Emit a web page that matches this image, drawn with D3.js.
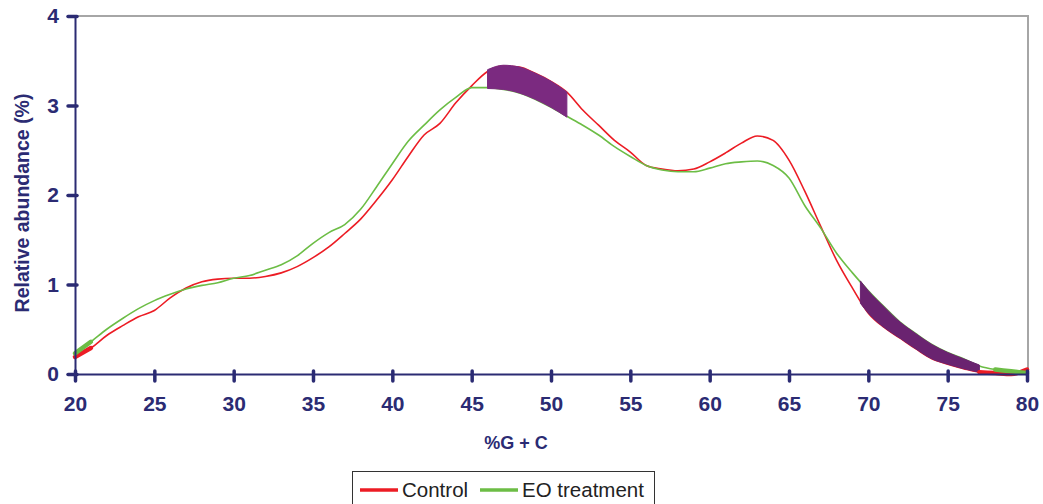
<!DOCTYPE html>
<html>
<head>
<meta charset="utf-8">
<script src="https://cdn.jsdelivr.net/npm/d3@7"></script>
<style>
  body { margin: 0; background: #fff; }
  svg { display: block; font-family: "Liberation Sans", Arial, sans-serif; }
</style>
</head>
<body>
<svg id="chart"></svg>
<script>
// %G+C values (1% steps)
let gcValues = d3.range(20, 81)
let controlValues = [0.19, 0.29, 0.43, 0.54, 0.64, 0.71, 0.85, 0.96, 1.03, 1.06,
    1.07, 1.07, 1.09, 1.13, 1.20, 1.30, 1.42, 1.57, 1.73, 1.94,
    2.17, 2.43, 2.67, 2.80, 3.03, 3.22, 3.38, 3.44, 3.43, 3.36,
    3.27, 3.15, 2.95, 2.78, 2.61, 2.48, 2.33, 2.29, 2.27, 2.29,
    2.37, 2.47, 2.58, 2.66, 2.61, 2.39, 2.04, 1.65, 1.27, 0.96,
    0.68, 0.52, 0.40, 0.28, 0.17, 0.11, 0.06, 0.02, 0.01, 0.00,
    0.05]
let eoValues = [0.23, 0.36, 0.50, 0.62, 0.73, 0.82, 0.89, 0.95, 0.99, 1.02,
    1.07, 1.10, 1.16, 1.22, 1.32, 1.46, 1.58, 1.67, 1.84, 2.09,
    2.35, 2.60, 2.78, 2.95, 3.09, 3.20, 3.20, 3.18, 3.14, 3.07,
    2.98, 2.88, 2.78, 2.67, 2.54, 2.43, 2.33, 2.28, 2.26, 2.26,
    2.30, 2.35, 2.37, 2.38, 2.33, 2.19, 1.88, 1.63, 1.35, 1.13,
    0.93, 0.75, 0.58, 0.45, 0.33, 0.24, 0.17, 0.09, 0.05, 0.03,
    0.01]

// shaded difference regions
let band1X = [46, 47, 48, 49, 50, 51]
let band1Top = [3.40, 3.45, 3.43, 3.36, 3.27, 3.15]
let band1Bottom = [3.19, 3.18, 3.14, 3.07, 2.98, 2.87]
let band2X = [69.5, 70, 71, 72, 73, 74, 75, 76, 77]
let band2Top = [1.04, 0.93, 0.75, 0.58, 0.45, 0.33, 0.24, 0.17, 0.10]
let band2Bottom = [0.79, 0.68, 0.52, 0.40, 0.28, 0.17, 0.11, 0.06, 0.02]

// highlighted (thick) stretches of the curves
let thickControl = [[20, 21], [77, 80]]
let thickEO = [[20, 21], [78, 80]]

let xTicks = [20, 25, 30, 35, 40, 45, 50, 55, 60, 65, 70, 75, 80]
let yTicks = [0, 1, 2, 3, 4]
let seriesNames = ["Control", "EO treatment"]

function getConfig(){
    let width = 1043;
    let height = 504;
    let margin = { top: 16, bottom: 130, left: 75, right: 15 }
    let bodyWidth = 1027 - margin.left;
    let bodyHeight = 374 - margin.top;
    let container = d3.select("#chart")
        .attr("width", width)
        .attr("height", height)
    return { width, height, margin, bodyWidth, bodyHeight, container };
}

function getScales(config){
    let { bodyWidth, bodyHeight } = config;
    let xScale = d3.scaleLinear().domain([20, 80]).range([0, bodyWidth])
    let yScale = d3.scaleLinear().domain([0, 4]).range([bodyHeight, 0])
    let cScale = d3.scaleOrdinal().domain(seriesNames).range(["#ec1c24", "#6cbd45"])
    return { xScale, yScale, cScale }
}

function drawFrame(scales, config){
    let { container, margin, bodyWidth, bodyHeight } = config;
    // grey plot border on top / right
    container.append("path")
        .attr("d", `M${margin.left},${margin.top}H${margin.left + bodyWidth + 1}V${margin.top + bodyHeight}`)
        .attr("fill", "none")
        .attr("stroke", "#a6a6a6")
        .attr("stroke-width", 2)
}

function drawCurves(scales, config){
    let { container, margin } = config;
    let { xScale, yScale, cScale } = scales;
    let body = container.append("g")
        .attr("transform", `translate(${margin.left},${margin.top})`)

    let line = d3.line()
        .x(d => xScale(d.x))
        .y(d => yScale(d.y))
        .curve(d3.curveMonotoneX)

    let series = [
        { name: "Control", thick: thickControl, values: gcValues.map((x, i) => ({ x: x, y: controlValues[i] })) },
        { name: "EO treatment", thick: thickEO, values: gcValues.map((x, i) => ({ x: x, y: eoValues[i] })) }
    ]

    body.selectAll(".curve")
        .data(series)
        .enter().append("path")
        .attr("class", "curve")
        .attr("d", d => line(d.values))
        .attr("fill", "none")
        .attr("stroke", d => cScale(d.name))
        .attr("stroke-width", 1.6)

    // purple difference bands
    let area = d3.area()
        .x(d => xScale(d.x))
        .y0(d => yScale(d.lo))
        .y1(d => yScale(d.hi))
        .curve(d3.curveMonotoneX)
    let bands = [
        { color: "#7b2a80", values: band1X.map((x, i) => ({ x: x, hi: band1Top[i], lo: band1Bottom[i] })) },
        { color: "#6a2370", values: band2X.map((x, i) => ({ x: x, hi: band2Top[i], lo: band2Bottom[i] })) }
    ]
    body.selectAll(".band")
        .data(bands)
        .enter().append("path")
        .attr("class", "band")
        .attr("d", d => area(d.values))
        .attr("fill", d => d.color)
        .attr("stroke", d => d.color)
        .attr("stroke-width", 1)

    // thick stretches
    series.forEach(s => {
        s.thick.forEach(r => {
            let part = s.values.filter(v => v.x >= r[0] && v.x <= r[1])
            body.append("path")
                .attr("d", line(part))
                .attr("fill", "none")
                .attr("stroke", cScale(s.name))
                .attr("stroke-width", 4.5)
                .attr("stroke-linecap", "round")
        })
    })
}

function drawAxes(scales, config){
    let { container, margin, bodyHeight, bodyWidth } = config;
    let { xScale, yScale } = scales;
    let navy = "#2b2b73"

    let axisX = d3.axisBottom(xScale)
        .tickValues(xTicks)
        .tickSize(8)
        .tickPadding(14)
    let gx = container.append("g")
        .attr("transform", `translate(${margin.left},${margin.top + bodyHeight})`)
        .call(axisX)
    gx.select(".domain").attr("stroke", navy).attr("stroke-width", 2)
    gx.selectAll(".tick line")
        .attr("y1", -3).attr("y2", 7)
        .attr("stroke", navy).attr("stroke-width", 3.5).attr("stroke-linecap", "round")
    gx.selectAll(".tick text")
        .attr("fill", navy)
        .style("font-size", "21px")
        .style("font-weight", "bold")

    let axisY = d3.axisLeft(yScale)
        .tickValues(yTicks)
        .tickFormat(d3.format("d"))
        .tickSize(8)
        .tickPadding(8)
    let gy = container.append("g")
        .attr("transform", `translate(${margin.left},${margin.top})`)
        .call(axisY)
    gy.select(".domain").attr("stroke", navy).attr("stroke-width", 2)
    gy.selectAll(".tick line")
        .attr("x1", 2).attr("x2", -7)
        .attr("stroke", navy).attr("stroke-width", 3.5).attr("stroke-linecap", "round")
    gy.selectAll(".tick text")
        .attr("fill", navy)
        .style("font-size", "21px")
        .style("font-weight", "bold")

    container.append("text")
        .attr("x", 516)
        .attr("y", 448.5)
        .attr("text-anchor", "middle")
        .attr("fill", navy)
        .style("font-size", "18px")
        .style("font-weight", "bold")
        .text("%G + C")

    container.append("text")
        .attr("transform", "translate(29,203) rotate(-90)")
        .attr("text-anchor", "middle")
        .attr("fill", navy)
        .style("font-size", "19.5px")
        .style("font-weight", "bold")
        .text("Relative abundance (%)")
}

function legend(scales, config){
    let { container } = config;
    let { cScale } = scales;
    container.append("rect")
        .attr("x", 352.5)
        .attr("y", 471.5)
        .attr("width", 302)
        .attr("height", 50)
        .attr("fill", "#fff")
        .attr("stroke", "#333")
        .attr("stroke-width", 1)
    let pos = [{ x: 360, tx: 402 }, { x: 480, tx: 522 }]
    seriesNames.forEach((name, i) => {
        container.append("line")
            .attr("x1", pos[i].x).attr("x2", pos[i].x + 38)
            .attr("y1", 490).attr("y2", 490)
            .attr("stroke", cScale(name))
            .attr("stroke-width", 3.5)
        container.append("text")
            .attr("x", pos[i].tx)
            .attr("y", 497)
            .attr("fill", "#222")
            .style("font-size", "20.5px")
            .text(name)
    })
}

let config = getConfig();
let scales = getScales(config);
drawFrame(scales, config);
drawCurves(scales, config);
drawAxes(scales, config);
legend(scales, config);
</script>
</body>
</html>
